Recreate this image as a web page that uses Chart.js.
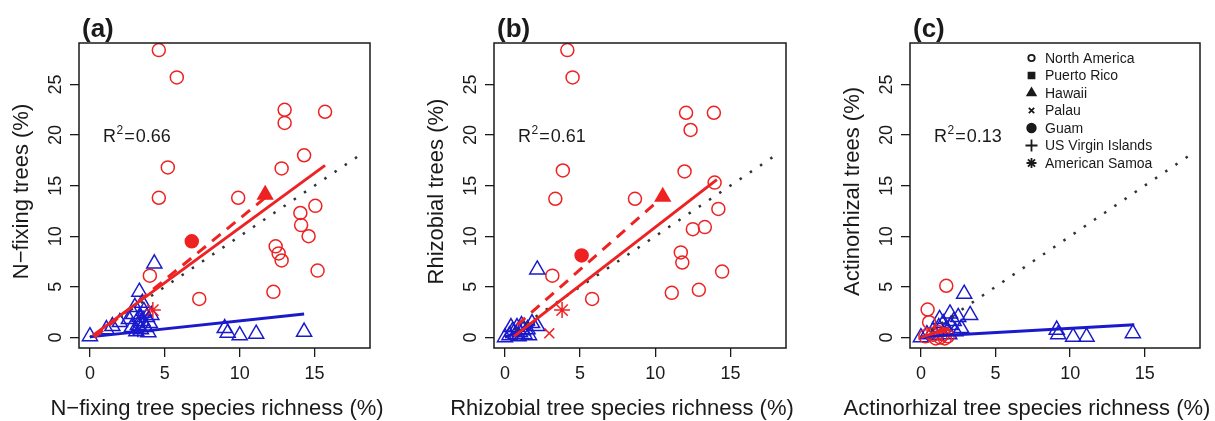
<!DOCTYPE html>
<html>
<head>
<meta charset="utf-8">
<script src="https://cdn.jsdelivr.net/npm/chart.js@4.4.0/dist/chart.umd.min.js"></script>
<style>
  html, body { margin: 0; padding: 0; background: #fff; }
  #wrap { position: relative; width: 1215px; height: 421px; }
  .panel { position: absolute; top: 0; width: 405px; height: 421px; }
</style>
</head>
<body>
<div id="wrap">
  <div class="panel" style="left:0px"><canvas id="pa"></canvas></div>
  <div class="panel" style="left:405px"><canvas id="pb"></canvas></div>
  <div class="panel" style="left:810px"><canvas id="pc"></canvas></div>
</div>
<script>
// axes shared by the three panels
const xTicks = [0, 5, 10, 15];
const yTicks = [0, 5, 10, 15, 20, 25];
const xRange = [-0.73, 18.7];
const yRange = [-1.05, 29.1];
const oneToOne = [[0, 0], [18.2, 18.2]];

// (a) N-fixing trees
const aRedCircles = [[4.6,28.4],[5.8,25.7],[13.0,22.5],[13.0,21.2],[15.7,22.3],[14.3,18.0],[5.2,16.8],[12.8,16.7],[4.6,13.8],[9.9,13.8],[15.05,13.0],[14.05,12.3],[14.1,11.1],[14.6,10.0],[12.4,9.0],[12.6,8.3],[12.8,7.6],[15.2,6.6],[4.0,6.1],[12.25,4.5],[7.3,3.8]];
const aGuam = [[6.8,9.5]];
const aHawaii = [[11.7,14.1]];
const aSamoa = [[4.2,2.7]];
const aBlueTriangles = [[4.3,7.3],[3.3,4.5],[0,0.1],[1.5,1.1],[2.6,1.8],[2.9,2.3],[3.0,3.0],[3.2,1.2],[3.3,2.0],[3.4,0.8],[3.5,1.6],[3.6,2.6],[3.7,1.0],[3.8,2.0],[3.9,0.5],[4.0,1.4],[3.1,0.6],[2.8,1.0],[3.5,3.4],[4.1,2.2],[1.1,0.8],[2.0,1.5],[9.0,0.9],[9.2,0.45],[10.0,0.2],[11.1,0.35],[14.3,0.55]];
const aBlueStars = [[3.6,2.0],[3.2,0.7]];
const aFitRed = [[0.2,0.2],[15.7,17.0]];
const aFitRedDash = [[0.3,0.0],[11.7,13.8]];
const aFitBlue = [[0,0.05],[14.3,2.3]];

// (b) Rhizobial trees
const bRedCircles = [[4.15,28.4],[4.5,25.7],[12.05,22.2],[13.9,22.2],[12.35,20.5],[3.85,16.5],[11.95,16.4],[13.95,15.3],[3.35,13.7],[8.65,13.7],[14.2,12.7],[12.5,10.7],[13.3,10.9],[11.7,8.4],[11.8,7.4],[3.15,6.1],[14.45,6.5],[5.8,3.8],[11.1,4.4],[12.9,4.7]];
const bGuam = [[5.1,8.1]];
const bHawaii = [[10.5,13.9]];
const bSamoa = [[3.8,2.7]];
const bPalau = [[2.95,0.4]];
const bBlueTriangles = [[2.15,6.7],[2.15,1.1],[0,0],[0.3,0.2],[0.5,0.6],[0.7,0.3],[0.8,1.0],[1.0,0.5],[1.1,1.2],[1.3,0.3],[1.5,0.8],[0.4,1.0],[0.9,0.1],[1.6,0.2],[1.2,0.7],[1.8,1.4]];
const bFitRed = [[0.6,0.1],[14.1,15.6]];
const bFitRedDash = [[0.8,1.2],[10.5,13.9]];
const bFitBlue = [[0,0],[2.0,1.3]];

// (c) Actinorhizal trees
const cRedCircles = [[1.7,5.1],[0.45,2.75],[0.55,1.5],[1.0,-0.1],[1.3,0.0],[1.6,-0.1],[1.8,0.1],[0.8,0.25],[1.2,0.5],[0.3,0.1],[1.5,0.3]];
const cBlueTriangles = [[2.9,4.3],[3.3,2.2],[1.95,2.35],[1.25,1.8],[2.5,2.0],[0,0],[0.4,0.3],[0.8,0.6],[1.2,1.0],[1.5,1.4],[1.7,0.8],[2.0,1.2],[2.3,0.6],[2.7,0.9],[2.2,1.6],[1.0,0.2],[1.9,0.3],[9.1,0.75],[9.2,0.3],[10.2,0.05],[11.1,0.05],[14.2,0.4]];
const cFitRed = [[0,0],[1.9,0.9]];
const cFitBlue = [[0,0.05],[14.3,1.25]];

const legendLabels = ['North America', 'Puerto Rico', 'Hawaii', 'Palau', 'Guam', 'US Virgin Islands', 'American Samoa'];

const FONT = 'Arial, "Liberation Sans", Helvetica, sans-serif';
const RED = '#ee2222';
const BLUE = '#1a1acc';
const INK = '#1a1a1a';

function pts(arr) {
  return arr.map(p => ({ x: p[0], y: p[1] }));
}

function marks(arr, style, color, filled, radius) {
  return {
    data: pts(arr), pointStyle: style, pointRadius: radius, pointBorderColor: color,
    pointBackgroundColor: filled ? color : 'rgba(0,0,0,0)', pointBorderWidth: 1.5, showLine: false
  };
}

function line(arr, color, width, dash) {
  return {
    data: pts(arr), showLine: true, pointRadius: 0, borderColor: color, borderWidth: width,
    borderDash: dash || [], fill: false, tension: 0
  };
}

function drawLegend(ctx) {
  const styles = ['circle', 'rect', 'triangle', 'crossRot', 'circle', 'cross', 'star'];
  const filled = [false, true, true, false, true, false, false];
  const radius = [3.2, 4.2, 4.8, 3.8, 4.3, 6, 5];
  ctx.save();
  ctx.font = '14px ' + FONT;
  ctx.textBaseline = 'middle';
  ctx.textAlign = 'left';
  legendLabels.forEach((lab, i) => {
    const y = 58 + i * 17.5;
    ctx.strokeStyle = INK;
    ctx.fillStyle = filled[i] ? INK : '#fff';
    ctx.lineWidth = 1.8;
    Chart.helpers.drawPoint(ctx, { pointStyle: styles[i], radius: radius[i], rotation: 0, borderWidth: 1.8 }, 221.5, y);
    ctx.fillStyle = INK;
    ctx.fillText(lab, 235, y + 1);
  });
  ctx.restore();
}

function deco(p) {
  return {
    id: 'deco',
    afterDraw(chart) {
      const ctx = chart.ctx, a = chart.chartArea;
      ctx.save();
      ctx.strokeStyle = INK;
      ctx.lineWidth = 1.5;
      ctx.strokeRect(a.left, a.top, a.right - a.left, a.bottom - a.top);

      ctx.fillStyle = INK;
      ctx.textAlign = 'left';
      ctx.textBaseline = 'alphabetic';
      ctx.font = 'bold 26px ' + FONT;
      ctx.fillText(p.label, a.left + 3, 37);

      // R^2 label
      let x = a.left + 24;
      ctx.font = '18px ' + FONT;
      ctx.fillText('R', x, 142);
      x += ctx.measureText('R').width + 0.5;
      ctx.font = '12px ' + FONT;
      ctx.fillText('2', x, 134);
      x += ctx.measureText('2').width + 1;
      ctx.font = '18px ' + FONT;
      ctx.fillText('=', x, 142);
      x += ctx.measureText('=').width + 1;
      ctx.fillText(p.r2, x, 142);

      ctx.font = '22px ' + FONT;
      ctx.textAlign = 'center';
      ctx.fillText(p.xTitle, 217, 415);

      ctx.translate(a.left - 57.5, (a.top + a.bottom) / 2 - 4);
      ctx.rotate(-Math.PI / 2);
      ctx.textBaseline = 'middle';
      ctx.fillText(p.yTitle, 0, 0);
      ctx.restore();

      if (p.legend) drawLegend(ctx);
    }
  };
}

function makePanel(id, p) {
  new Chart(document.getElementById(id), {
    type: 'scatter',
    data: { datasets: p.datasets },
    options: {
      responsive: true,
      maintainAspectRatio: false,
      animation: false,
      events: [],
      layout: { padding: { top: 43, right: p.padRight, left: 0, bottom: 0 } },
      plugins: { legend: { display: false }, tooltip: { enabled: false } },
      scales: {
        x: {
          type: 'linear', min: xRange[0], max: xRange[1],
          afterBuildTicks: s => { s.ticks = xTicks.map(v => ({ value: v })); },
          afterFit: s => { s.height = 73; },
          border: { display: false },
          grid: { drawOnChartArea: false, drawTicks: true, tickLength: 9, color: INK, lineWidth: 1.3 },
          ticks: { color: INK, font: { family: FONT, size: 18 }, padding: 6, minRotation: 0, maxRotation: 0 }
        },
        y: {
          type: 'linear', min: yRange[0], max: yRange[1],
          afterBuildTicks: s => { s.ticks = yTicks.map(v => ({ value: v })); },
          afterFit: s => { s.width = p.left; },
          border: { display: false },
          grid: { drawOnChartArea: false, drawTicks: true, tickLength: 9, color: INK, lineWidth: 1.3 },
          ticks: { color: INK, font: { family: FONT, size: 18 }, padding: 4, minRotation: 90, maxRotation: 90, crossAlign: 'center' }
        }
      }
    },
    plugins: [deco(p)]
  });
}

makePanel('pa', {
  label: '(a)', r2: '0.66', left: 79, padRight: 35,
  xTitle: 'N\u2212fixing tree species richness (%)', yTitle: 'N\u2212fixing trees (%)',
  datasets: [
    line(aFitRed, RED, 3),
    line(aFitRedDash, RED, 3, [11, 8]),
    line(aFitBlue, BLUE, 3),
    line(oneToOne, '#333', 2.5, [2.5, 9.8]),
    marks(aBlueStars, 'star', BLUE, false, 7),
    marks(aSamoa, 'star', RED, false, 8),
    marks(aGuam, 'circle', RED, true, 6.5),
    marks(aHawaii, 'triangle', RED, true, 8.5),
    marks(aBlueTriangles, 'triangle', BLUE, false, 8.7),
    marks(aRedCircles, 'circle', RED, false, 6.5)
  ]
});

makePanel('pb', {
  label: '(b)', r2: '0.61', left: 89, padRight: 24,
  xTitle: 'Rhizobial tree species richness (%)', yTitle: 'Rhizobial trees (%)',
  datasets: [
    line(bFitRed, RED, 3),
    line(bFitRedDash, RED, 3, [11, 8]),
    line(bFitBlue, BLUE, 3),
    line(oneToOne, '#333', 2.5, [2.5, 9.8]),
    marks(bSamoa, 'star', RED, false, 8),
    marks(bPalau, 'crossRot', RED, false, 7),
    marks(bGuam, 'circle', RED, true, 6.5),
    marks(bHawaii, 'triangle', RED, true, 8.5),
    marks(bBlueTriangles, 'triangle', BLUE, false, 8.7),
    marks(bRedCircles, 'circle', RED, false, 6.5)
  ]
});

makePanel('pc', {
  label: '(c)', r2: '0.13', left: 100, padRight: 15, legend: true,
  xTitle: 'Actinorhizal tree species richness (%)', yTitle: 'Actinorhizal trees (%)',
  datasets: [
    line(cFitRed, RED, 3),
    line(cFitBlue, BLUE, 3),
    line(oneToOne, '#333', 2.5, [2.5, 9.8]),
    marks(cRedCircles, 'circle', RED, false, 6.5),
    marks(cBlueTriangles, 'triangle', BLUE, false, 8.7)
  ]
});
</script>
</body>
</html>
